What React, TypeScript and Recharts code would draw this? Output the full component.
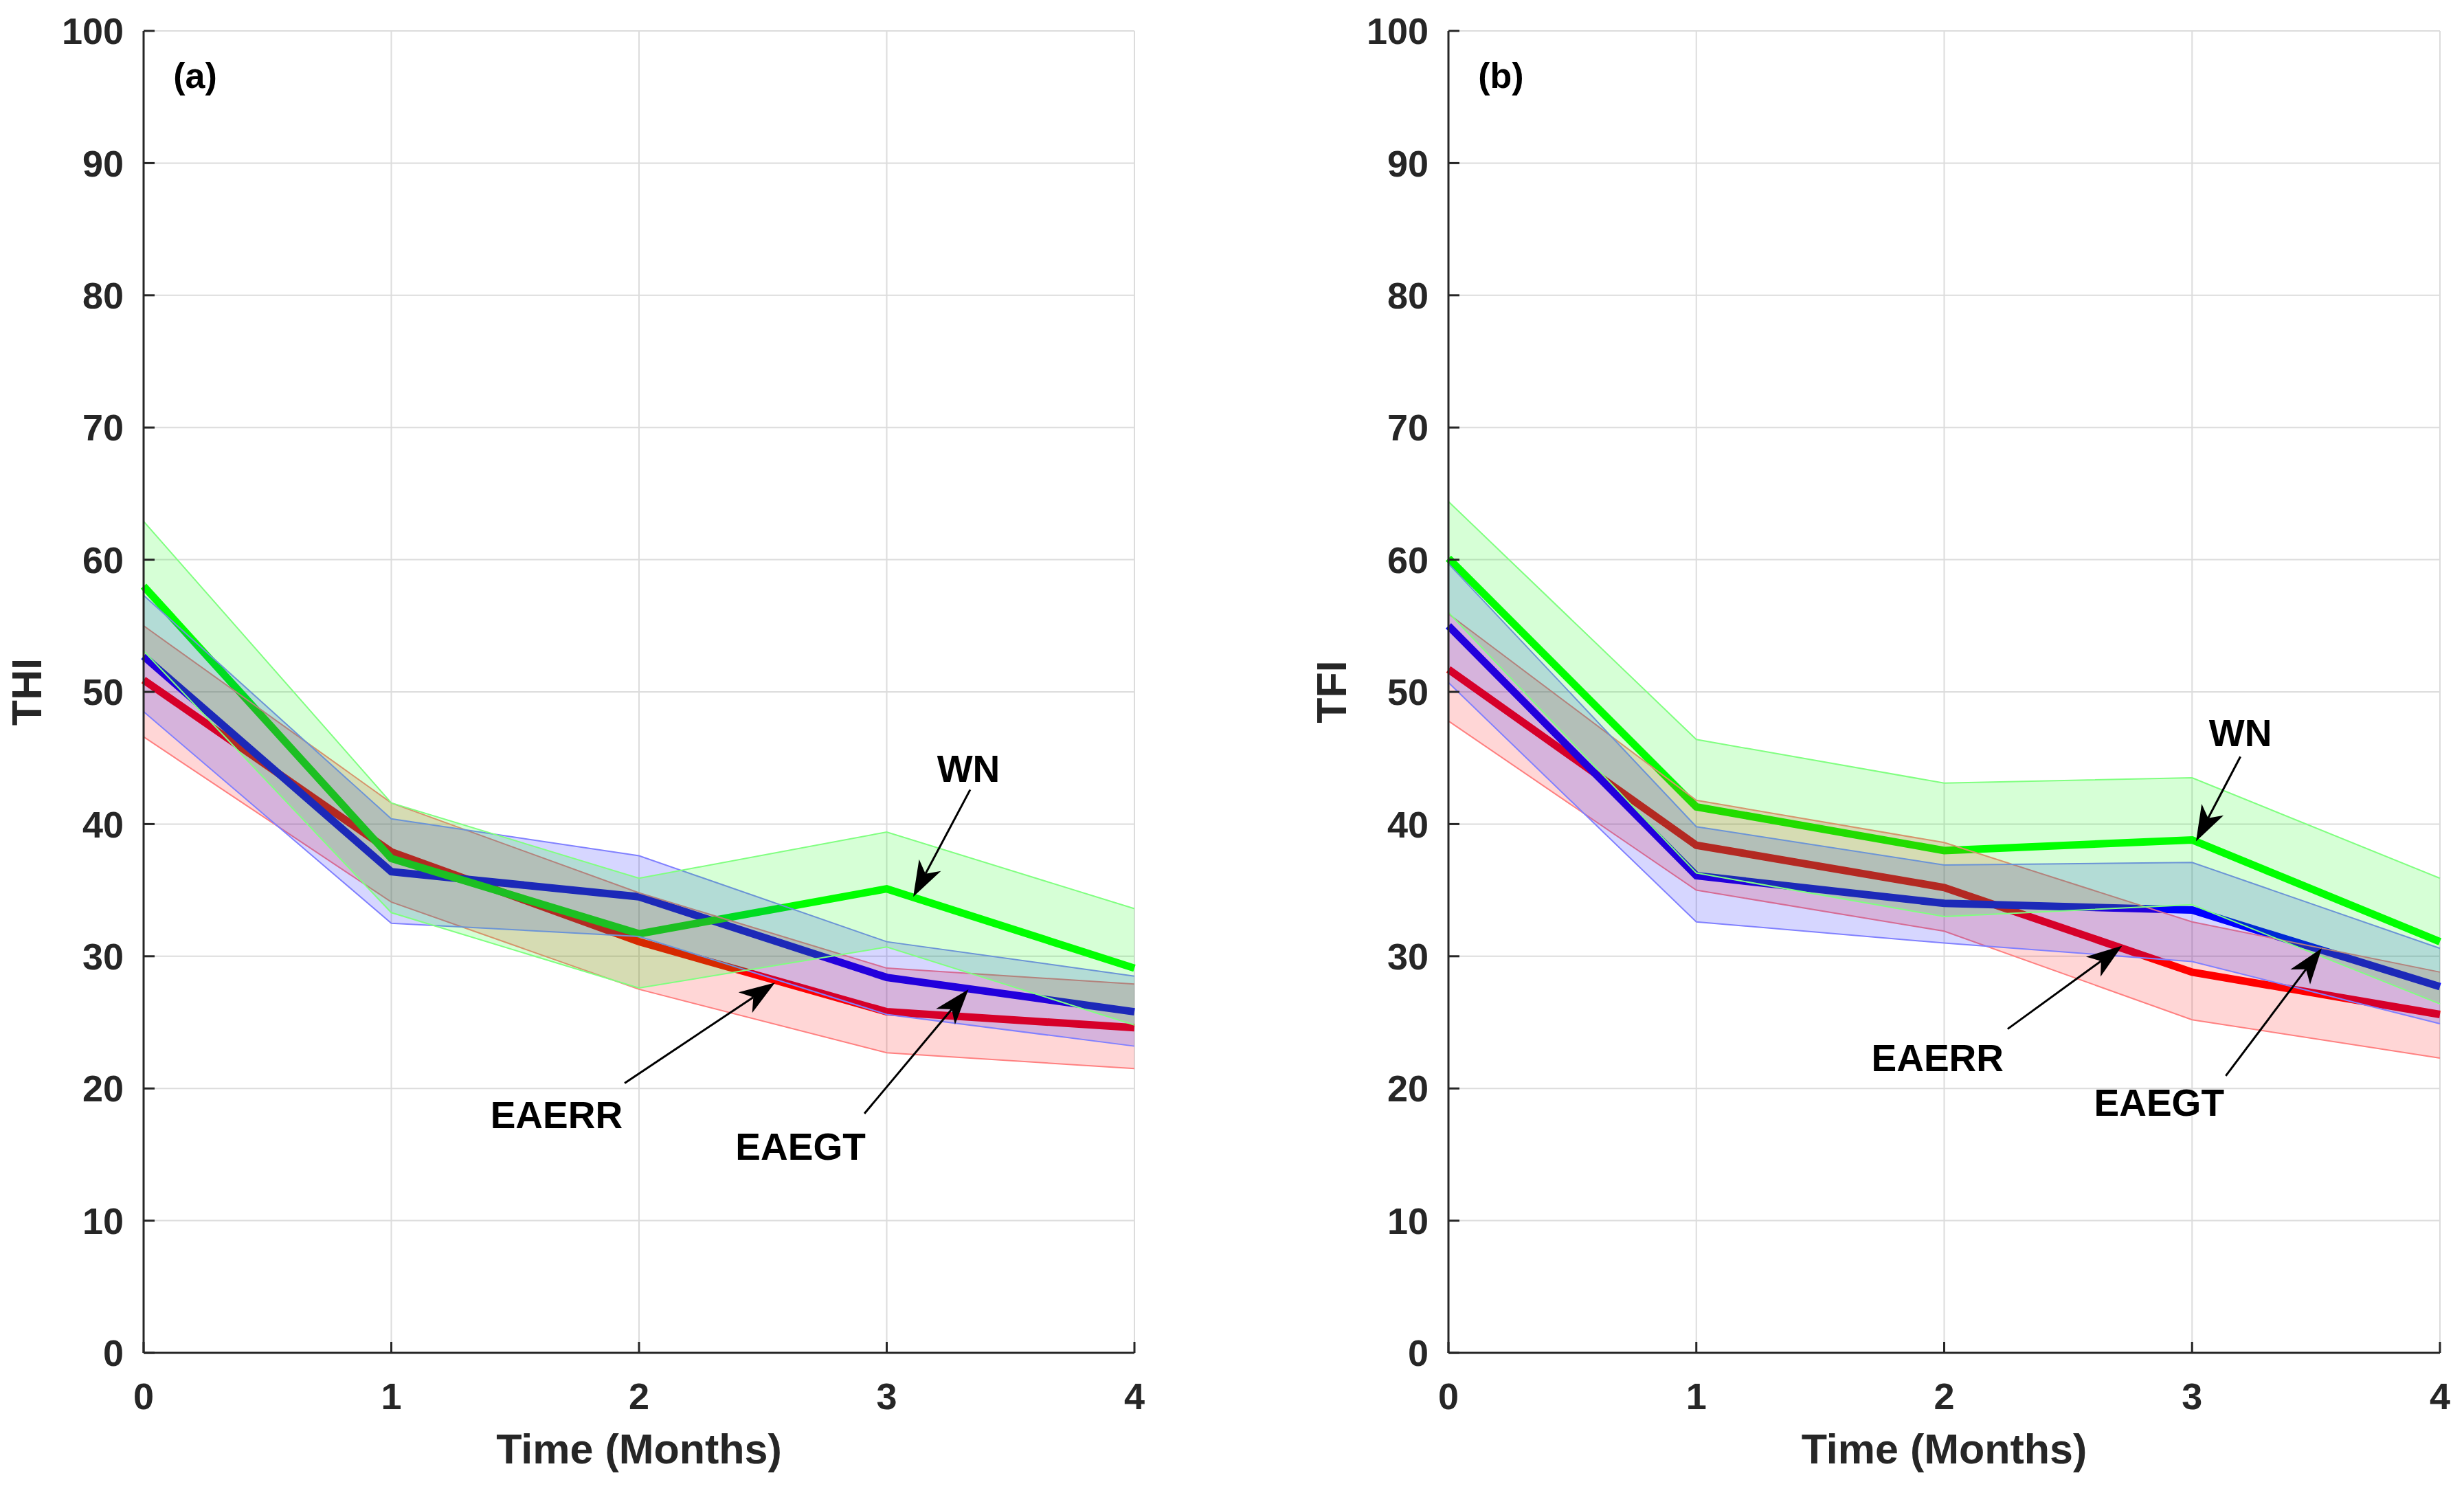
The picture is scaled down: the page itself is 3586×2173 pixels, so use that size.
import {
  Area,
  CartesianGrid,
  ComposedChart,
  Line,
  ReferenceDot,
  ReferenceLine,
  XAxis,
  YAxis,
} from "recharts";

const months = [0, 1, 2, 3, 4];
const yTicks = [0, 10, 20, 30, 40, 50, 60, 70, 80, 90, 100];

// (a) THI
const wnThi = [58.0, 37.4, 31.7, 35.1, 29.1];
const wnThiHi = [62.9, 41.6, 35.9, 39.4, 33.6];
const wnThiLo = [53.1, 33.3, 27.6, 30.7, 24.8];
const egtThi = [52.7, 36.4, 34.5, 28.4, 25.8];
const egtThiHi = [57.3, 40.4, 37.6, 31.1, 28.5];
const egtThiLo = [48.5, 32.5, 31.5, 25.6, 23.2];
const errThi = [50.9, 37.9, 31.1, 25.8, 24.6];
const errThiHi = [55.0, 41.6, 34.8, 29.1, 27.9];
const errThiLo = [46.6, 34.1, 27.5, 22.7, 21.5];

// (b) TFI
const wnTfi = [60.1, 41.3, 38.0, 38.8, 31.1];
const wnTfiHi = [64.4, 46.4, 43.1, 43.5, 35.9];
const wnTfiLo = [56.0, 36.3, 33.0, 33.9, 26.4];
const egtTfi = [55.0, 36.1, 34.0, 33.5, 27.7];
const egtTfiHi = [59.7, 39.8, 36.9, 37.1, 30.6];
const egtTfiLo = [50.7, 32.6, 31.0, 29.6, 24.9];
const errTfi = [51.7, 38.4, 35.2, 28.8, 25.6];
const errTfiHi = [55.9, 41.8, 38.6, 32.6, 28.8];
const errTfiLo = [47.8, 35.0, 31.9, 25.2, 22.3];

const FONT = '"Liberation Sans", Arial, Helvetica, sans-serif';
const INK = "#262626";

type Note = { text: string; tx: number; ty: number; from: [number, number]; to: [number, number] };

const thiNotes: Note[] = [
  { text: "WN", tx: 3.33, ty: 44.2, from: [3.337, 42.6], to: [3.107, 34.5] },
  { text: "EAERR", tx: 1.667, ty: 18.0, from: [1.942, 20.4], to: [2.549, 28.0] },
  { text: "EAEGT", tx: 2.652, ty: 15.6, from: [2.91, 18.1], to: [3.33, 27.5] },
];
const tfiNotes: Note[] = [
  { text: "WN", tx: 3.195, ty: 46.9, from: [3.195, 45.1], to: [3.016, 38.7] },
  { text: "EAERR", tx: 1.973, ty: 22.3, from: [2.256, 24.5], to: [2.718, 30.8] },
  { text: "EAEGT", tx: 2.867, ty: 18.9, from: [3.136, 20.95], to: [3.523, 30.6] },
];

function buildRows(
  wn: number[], wnHi: number[], wnLo: number[],
  egt: number[], egtHi: number[], egtLo: number[],
  err: number[], errHi: number[], errLo: number[],
) {
  return months.map((t, i) => ({
    t,
    wn: wn[i],
    wnBand: [wnLo[i], wnHi[i]],
    egt: egt[i],
    egtBand: [egtLo[i], egtHi[i]],
    err: err[i],
    errBand: [errLo[i], errHi[i]],
  }));
}

const thiRows = buildRows(wnThi, wnThiHi, wnThiLo, egtThi, egtThiHi, egtThiLo, errThi, errThiHi, errThiLo);
const tfiRows = buildRows(wnTfi, wnTfiHi, wnTfiLo, egtTfi, egtTfiHi, egtTfiLo, errTfi, errTfiHi, errTfiLo);

function Arrow(props: any) {
  const { x1, y1, x2, y2 } = props;
  const dx = x2 - x1;
  const dy = y2 - y1;
  const len = Math.hypot(dx, dy) || 1;
  const ux = dx / len;
  const uy = dy / len;
  const nx = -uy;
  const ny = ux;
  const L = 52, W = 18, N = 14;
  const bx = x2 - ux * L, by = y2 - uy * L;
  const mx = x2 - ux * (L - N), my = y2 - uy * (L - N);
  return (
    <g>
      <line x1={x1} y1={y1} x2={mx} y2={my} stroke="#000" strokeWidth={3} />
      <path
        d={`M${x2},${y2} L${bx + nx * W},${by + ny * W} L${mx},${my} L${bx - nx * W},${by - ny * W} Z`}
        fill="#000"
      />
    </g>
  );
}

function textShape(text: string, anchor: "middle" | "start" = "middle", size = 55) {
  return (p: any) => (
    <text
      x={p.cx}
      y={p.cy}
      textAnchor={anchor}
      dominantBaseline="central"
      fontFamily={FONT}
      fontWeight={700}
      fontSize={size}
      fill="#000"
    >
      {text}
    </text>
  );
}

const tickStyle = { fontSize: 54, fontWeight: 700, fill: INK, fontFamily: FONT };

function Panel({ rows, notes, yLabel, tag, yWidth, right }: {
  rows: any[]; notes: Note[]; yLabel: string; tag: string; yWidth: number; right: number;
}) {
  return (
    <ComposedChart
      width={1793}
      height={2173}
      data={rows}
      margin={{ top: 45, right, bottom: 0, left: 0 }}
    >
      <CartesianGrid stroke="#dcdcdc" strokeWidth={2} />
      <XAxis
        dataKey="t"
        type="number"
        domain={[0, 4]}
        ticks={months}
        height={204}
        tickSize={-16}
        tickMargin={60}
        tick={tickStyle}
        stroke={INK}
        strokeWidth={3}
        label={{
          content: ({ viewBox }: any) => (
            <text
              x={viewBox.x + viewBox.width / 2}
              y={viewBox.y + 140}
              textAnchor="middle"
              dominantBaseline="central"
              fontFamily={FONT}
              fontWeight={700}
              fontSize={61}
              fill={INK}
            >
              Time (Months)
            </text>
          ),
        }}
      />
      <XAxis
        xAxisId="top"
        orientation="top"
        type="number"
        domain={[0, 4]}
        ticks={months}
        height={0}
        tickSize={-16}
        tick={false}
        stroke={INK}
        strokeWidth={3}
      />
      <YAxis
        type="number"
        domain={[0, 100]}
        ticks={yTicks}
        width={yWidth}
        tickSize={-16}
        tickMargin={45}
        tick={tickStyle}
        stroke={INK}
        strokeWidth={3}
        label={{
          content: ({ viewBox }: any) => {
            const x = viewBox.x + viewBox.width - 170;
            const y = viewBox.y + viewBox.height / 2;
            return (
              <text
                x={x}
                y={y}
                transform={`rotate(-90 ${x} ${y})`}
                textAnchor="middle"
                dominantBaseline="central"
                fontFamily={FONT}
                fontWeight={700}
                fontSize={61}
                fill={INK}
              >
                {yLabel}
              </text>
            );
          },
        }}
      />
      <YAxis
        yAxisId="right"
        orientation="right"
        type="number"
        domain={[0, 100]}
        ticks={yTicks}
        width={0}
        tickSize={-16}
        tick={false}
        stroke={INK}
        strokeWidth={3}
      />

      <Line dataKey="err" stroke="#ff0000" strokeWidth={11} dot={false} activeDot={false} isAnimationActive={false} zIndex={50} />
      <Line dataKey="egt" stroke="#0000ff" strokeWidth={11} dot={false} activeDot={false} isAnimationActive={false} zIndex={50} />
      <Line dataKey="wn" stroke="#00ff00" strokeWidth={11} dot={false} activeDot={false} isAnimationActive={false} zIndex={50} />

      <Area dataKey="errBand" type="linear" stroke="#ff8080" strokeWidth={2} fill="#ff0000" fillOpacity={0.16} isAnimationActive={false} activeDot={false} />
      <Area dataKey="egtBand" type="linear" stroke="#8080ff" strokeWidth={2} fill="#0000ff" fillOpacity={0.16} isAnimationActive={false} activeDot={false} />
      <Area dataKey="wnBand" type="linear" stroke="#80ff80" strokeWidth={2} fill="#00ff00" fillOpacity={0.16} isAnimationActive={false} activeDot={false} />

      <ReferenceDot x={0.12} y={96.6} r={0} shape={textShape(tag, "start", 52)} />
      {notes.map((n) => (
        <ReferenceLine
          key={`l-${n.text}`}
          segment={[{ x: n.from[0], y: n.from[1] }, { x: n.to[0], y: n.to[1] }]}
          shape={Arrow}
        />
      ))}
      {notes.map((n) => (
        <ReferenceDot key={`t-${n.text}`} x={n.tx} y={n.ty} r={0} shape={textShape(n.text)} />
      ))}
    </ComposedChart>
  );
}

export default function App() {
  return (
    <div
      style={{
        position: "absolute",
        left: 0,
        top: 0,
        width: 3586,
        height: 2173,
        background: "#fff",
        display: "flex",
      }}
    >
      <Panel rows={thiRows} notes={thiNotes} yLabel="THI" tag="(a)" yWidth={209} right={142} />
      <Panel rows={tfiRows} notes={tfiNotes} yLabel="TFI" tag="(b)" yWidth={315} right={35} />
    </div>
  );
}
